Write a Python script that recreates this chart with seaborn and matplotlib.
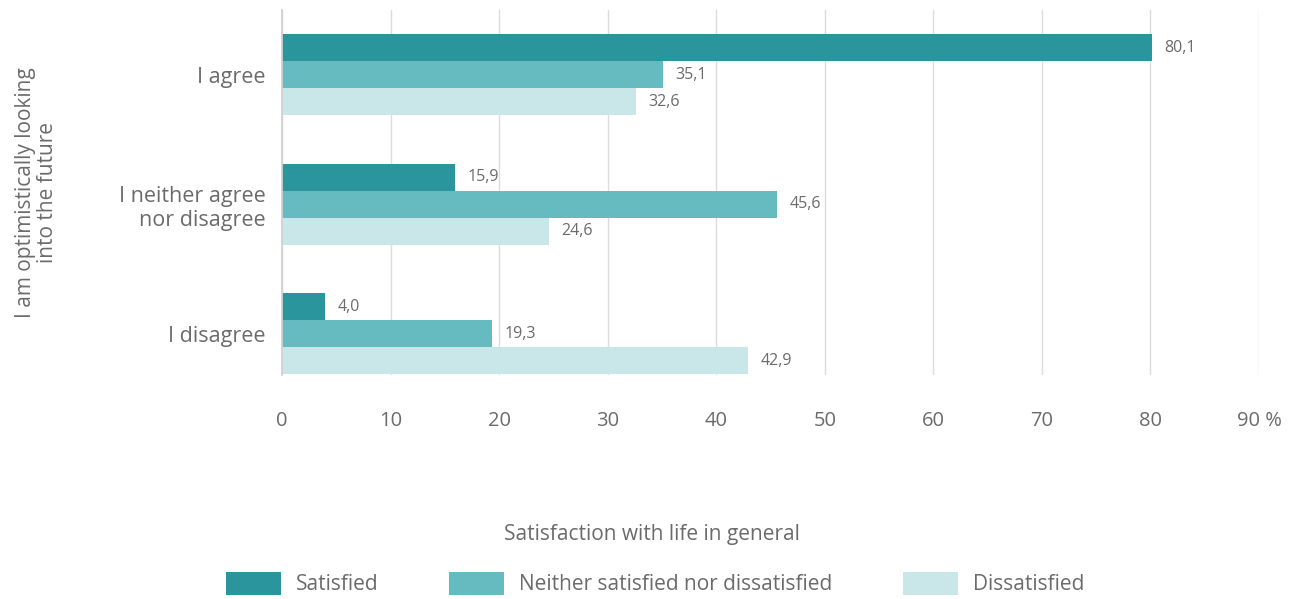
import pandas as pd
import matplotlib.pyplot as plt
import seaborn as sns

# data
CATEGORIES = ['I agree', 'I neither agree\nnor disagree', 'I disagree']
SATISFIED = [80.1, 15.9, 4.0]
NEITHER = [35.1, 45.6, 19.3]
DISSATISFIED = [32.6, 24.6, 42.9]
SERIES = ['Satisfied', 'Neither satisfied nor dissatisfied', 'Dissatisfied']
COLORS = ['#2a959d', '#66bbc1', '#c9e6e9']
X_TICKS = [0, 10, 20, 30, 40, 50, 60, 70, 80, 90]
X_TICK_LABELS = ['0', '10', '20', '30', '40', '50', '60', '70', '80', '90 %']

TEXT = '#6b6b6b'

rows = []
for name, vals in zip(SERIES, [SATISFIED, NEITHER, DISSATISFIED]):
    for cat, v in zip(CATEGORIES, vals):
        rows.append({'answer': cat, 'satisfaction': name, 'value': v})
df = pd.DataFrame(rows)

sns.set_theme(style='white')
plt.rcParams['font.family'] = ['Open Sans', 'DejaVu Sans']

fig = plt.figure(figsize=(13.1, 5.99), dpi=100)
ax = fig.add_axes([0.2153, 0.374, 0.7458, 0.609])

sns.barplot(data=df, y='answer', x='value', hue='satisfaction', orient='h',
            order=CATEGORIES, hue_order=SERIES, palette=COLORS,
            width=0.625, saturation=1, errorbar=None, legend=False,
            linewidth=0, ax=ax)

# value labels with decimal comma
for container in ax.containers:
    labels = [f'{v:.1f}'.replace('.', ',') for v in container.datavalues]
    ax.bar_label(container, labels=labels, padding=9, fontsize=11.5, color=TEXT)

ax.set_xlim(0, 90)
ax.set_ylim(2.32, -0.5)
ax.set_xticks(X_TICKS)
ax.set_xticklabels(X_TICK_LABELS)
ax.tick_params(axis='x', labelsize=14.5, colors=TEXT, pad=26, length=0)
ax.tick_params(axis='y', labelsize=15.5, colors=TEXT, pad=12, length=0)
ax.xaxis.grid(True, color='#dcdcdc', linewidth=1)
ax.set_axisbelow(True)
for s in ['top', 'right', 'bottom']:
    ax.spines[s].set_visible(False)
ax.spines['left'].set_color('#d0d0d0')
ax.set_xlabel('')
ax.set_ylabel('I am optimistically looking\ninto the future', fontsize=15,
              color=TEXT, linespacing=1.1)
ax.yaxis.set_label_coords(-0.229, 0.5)

fig.text(0.498, 0.098, 'Satisfaction with life in general', ha='center',
         fontsize=15, color=TEXT)

handles = [plt.Rectangle((0, 0), 1, 1, color=c, linewidth=0) for c in COLORS]
leg = fig.legend(handles, SERIES, loc='lower center', bbox_to_anchor=(0.5, -0.025),
                 ncol=3, frameon=False, fontsize=15, handlelength=2.65,
                 handleheight=1.3, columnspacing=3.4, handletextpad=0.7)
for t in leg.get_texts():
    t.set_color(TEXT)

fig.savefig('out.png', dpi=100)
